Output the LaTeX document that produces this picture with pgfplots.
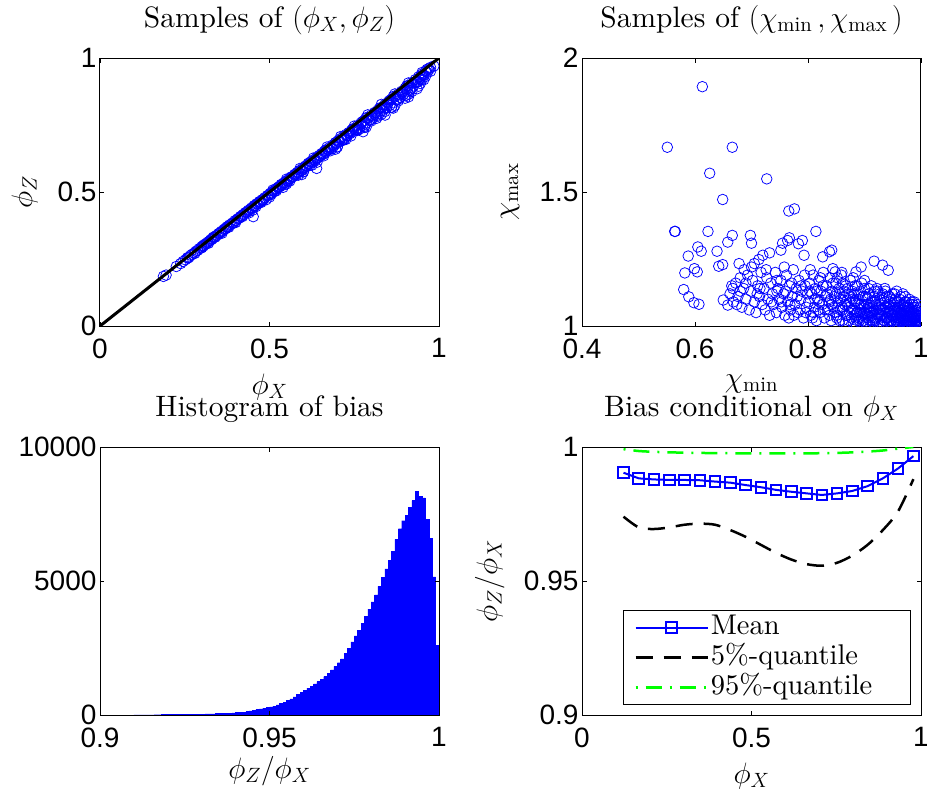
\RequirePackage{fix-cm}
\documentclass[border=0pt]{standalone}
\usepackage{fontspec}
\setmainfont{lmroman10-regular.otf}
\usepackage{pgfplots}
\pgfplotsset{compat=1.18}
\newfontfamily\tickfont{Liberation Sans}
\definecolor{mblue}{rgb}{0,0,1}
\definecolor{mgreen}{rgb}{0,1,0}
\newcommand\lgf{\fontsize{28.5}{29}\selectfont}
\pgfplotsset{
  mat/.style={
    scale only axis, width=339pt, height=268pt,
    axis line style={line width=1pt},
    tick align=inside, major tick length=4.5pt,
    every tick/.style={black, line width=0.8pt},
    scaled ticks=false,
    ticklabel style={font=\tickfont\fontsize{28}{28}\selectfont},
    xticklabel style={yshift=-9pt},
    /pgf/number format/assume math mode=true,
    /pgf/number format/1000 sep={},
    title style={font=\fontsize{29.5}{30}\selectfont, at={(axis description cs:0.5,1)}, anchor=base, yshift=24.5pt},
    label style={font=\fontsize{29.5}{30}\selectfont},
    xlabel style={at={(axis description cs:0.5,0)}, anchor=base, yshift=-68.5pt},
    clip marker paths=true,
  },
  sc/.style={only marks, mark=o, mark size=5.3pt, color=mblue, mark options={line width=0.75pt}},
}
\begin{document}
\begin{tikzpicture}
\path[use as bounding box] (0pt,0pt) rectangle (927pt,-800pt);
% ---------- top left
\begin{axis}[mat, at={(100pt,-326pt)}, anchor=south west,
  xmin=0, xmax=1, ymin=0, ymax=1, xtick={0,0.5,1}, ytick={0,0.5,1},
  title={Samples of $(\phi_X,\phi_Z)$}, xlabel={$\phi_X$}, ylabel={$\phi_Z$},
  ylabel style={at={(axis description cs:-0.222,0.5)}, anchor=center}]
\addplot[sc] coordinates {
(0.187,0.185) (0.195,0.190) (0.225,0.222) (0.238,0.233) (0.245,0.241) (0.252,0.247) (0.258,0.255) (0.263,0.257) (0.268,0.264) (0.272,0.268) (0.278,0.272) (0.283,0.279) (0.288,0.282) (0.292,0.288) (0.297,0.291) (0.301,0.297) (0.305,0.298) (0.309,0.305) (0.313,0.307) (0.318,0.313) (0.322,0.316) (0.326,0.321) (0.330,0.323) (0.334,0.330) (0.338,0.331) (0.342,0.337) (0.346,0.339) (0.350,0.345) (0.354,0.347) (0.358,0.353) (0.362,0.354) (0.366,0.361) (0.370,0.363) (0.374,0.368) (0.378,0.370) (0.382,0.377) (0.386,0.379) (0.390,0.384) (0.394,0.386) (0.398,0.393) (0.402,0.394) (0.406,0.400) (0.410,0.402) (0.414,0.408) (0.418,0.410) (0.422,0.416) (0.426,0.418) (0.430,0.424) (0.434,0.425) (0.438,0.432) (0.442,0.433) (0.446,0.440) (0.450,0.441) (0.454,0.447) (0.458,0.449) (0.462,0.456) (0.466,0.457) (0.470,0.464) (0.474,0.464) (0.478,0.471) (0.482,0.472) (0.486,0.479) (0.490,0.471) (0.494,0.487) (0.498,0.488) (0.502,0.495) (0.506,0.496) (0.510,0.503) (0.514,0.503) (0.518,0.511) (0.522,0.511) (0.526,0.518) (0.530,0.519) (0.534,0.526) (0.538,0.527) (0.542,0.534) (0.546,0.534) (0.550,0.542) (0.554,0.542) (0.558,0.550) (0.562,0.550) (0.566,0.557) (0.570,0.558) (0.574,0.565) (0.578,0.566) (0.582,0.573) (0.586,0.573) (0.590,0.581) (0.594,0.580) (0.598,0.589) (0.602,0.589) (0.606,0.597) (0.610,0.596) (0.614,0.605) (0.618,0.604) (0.622,0.613) (0.626,0.611) (0.630,0.620) (0.634,0.619) (0.638,0.628) (0.642,0.627) (0.646,0.636) (0.650,0.634) (0.654,0.644) (0.658,0.642) (0.662,0.652) (0.666,0.649) (0.670,0.660) (0.674,0.657) (0.678,0.667) (0.682,0.664) (0.686,0.675) (0.690,0.672) (0.694,0.683) (0.698,0.680) (0.702,0.691) (0.706,0.687) (0.710,0.699) (0.714,0.695) (0.718,0.707) (0.722,0.702) (0.726,0.715) (0.730,0.710) (0.734,0.722) (0.738,0.718) (0.742,0.730) (0.746,0.725) (0.750,0.738) (0.755,0.731) (0.760,0.748) (0.765,0.740) (0.770,0.758) (0.775,0.748) (0.780,0.767) (0.785,0.757) (0.790,0.777) (0.795,0.768) (0.800,0.787) (0.805,0.776) (0.810,0.797) (0.815,0.785) (0.820,0.806) (0.825,0.795) (0.830,0.816) (0.835,0.804) (0.840,0.826) (0.845,0.815) (0.850,0.836) (0.855,0.823) (0.860,0.846) (0.865,0.833) (0.870,0.855) (0.875,0.843) (0.880,0.866) (0.885,0.853) (0.890,0.876) (0.895,0.864) (0.900,0.887) (0.905,0.874) (0.910,0.897) (0.915,0.884) (0.920,0.908) (0.925,0.896) (0.930,0.919) (0.935,0.909) (0.940,0.930) (0.945,0.921) (0.950,0.940) (0.955,0.935) (0.960,0.951) (0.965,0.958) (0.970,0.960)
(0.452,0.408) (0.639,0.588) (0.776,0.725) (0.816,0.775) (0.841,0.787) (0.905,0.862) (0.939,0.912) (0.953,0.937) (0.660,0.635) (0.720,0.695) (0.780,0.745) (0.800,0.765) (0.840,0.800) (0.860,0.815) (0.880,0.840) (0.900,0.850) (0.920,0.875) (0.935,0.885) (0.950,0.920) (0.830,0.790) (0.600,0.575) (0.550,0.530) (0.450,0.432) (0.700,0.668) (0.760,0.730) (0.870,0.823) (0.910,0.865) (0.945,0.905)
(0.26,0.2535) (0.28,0.271) (0.30,0.2916) (0.32,0.3088) (0.34,0.3315) (0.36,0.3463) (0.38,0.3686) (0.40,0.386) (0.42,0.408) (0.44,0.4224) (0.46,0.4453) (0.48,0.468) (0.50,0.481) (0.52,0.5044) (0.54,0.5173) (0.56,0.541) (0.58,0.5638) (0.60,0.576) (0.62,0.600) (0.64,0.611) (0.66,0.6415) (0.68,0.654) (0.70,0.6685) (0.72,0.697) (0.74,0.709) (0.76,0.733) (0.78,0.741) (0.80,0.770) (0.82,0.783) (0.84,0.813) (0.86,0.817) (0.88,0.8466) (0.90,0.8595) (0.92,0.888) (0.94,0.895) (0.96,0.931)
(0.33,0.325) (0.37,0.363) (0.43,0.4236) (0.47,0.4606) (0.53,0.521) (0.57,0.5575) (0.61,0.599) (0.65,0.636) (0.69,0.676) (0.73,0.7125) (0.77,0.753) (0.81,0.790) (0.85,0.831) (0.89,0.868) (0.93,0.9095)
(0.51,0.5075) (0.55,0.548) (0.59,0.588) (0.63,0.627) (0.67,0.668) (0.71,0.707) (0.75,0.746) (0.79,0.788) (0.83,0.827) (0.87,0.866) (0.91,0.907) (0.95,0.946) (0.975,0.965) (0.97,0.955) (0.91,0.855) (0.865,0.813) (0.785,0.742) (0.695,0.660) (0.595,0.565)
(0.305,0.3004) (0.315,0.308) (0.335,0.3317) (0.355,0.348) (0.375,0.3705) (0.395,0.3851) (0.415,0.4088) (0.435,0.4254) (0.455,0.4495) (0.475,0.4608) (0.495,0.4861) (0.515,0.5021) (0.535,0.5286) (0.555,0.5395) (0.575,0.5664) (0.595,0.5801) (0.615,0.6076) (0.635,0.616) (0.655,0.6432) (0.675,0.6581) (0.695,0.6846) (0.715,0.6921) (0.735,0.7203) (0.755,0.7339) (0.775,0.7634) (0.795,0.7672) (0.815,0.7971) (0.835,0.810) (0.855,0.8422) (0.875,0.8444) (0.895,0.8753) (0.915,0.8784) (0.935,0.9116) (0.955,0.9187) (0.965,0.9457) (0.985,0.970) (0.975,0.9506) (0.945,0.9308) (0.925,0.9065) (0.905,0.896) (0.885,0.8629) (0.865,0.8564) (0.845,0.8129) (0.825,0.8126) (0.805,0.7849) (0.785,0.7772) (0.765,0.7344) (0.745,0.7338) (0.725,0.696) (0.705,0.6895) (0.685,0.661) (0.665,0.655) (0.645,0.6289) (0.625,0.60) (0.605,0.5917) (0.585,0.5628) (0.565,0.5565) (0.545,0.5276) (0.525,0.5171) (0.505,0.4909)
};
\addplot[black, line width=3pt] coordinates {(0,0) (1,1)};
\end{axis}
% ---------- top right
\begin{axis}[mat, at={(582pt,-326pt)}, anchor=south west,
  xmin=0.4, xmax=1, ymin=1, ymax=2, xtick={0.4,0.6,0.8,1}, ytick={1,1.5,2},
  title={Samples of $(\chi_{\min}\,,\chi_{\max}\,)$}, xlabel={$\chi_{\min}$}, ylabel={$\chi_{\max}$},
  xlabel style={yshift=7.5pt},
  ylabel style={at={(axis description cs:-0.212,0.5)}, anchor=center}]
\addplot[sc] coordinates {
(0.613,1.893) (0.551,1.667) (0.666,1.667) (0.626,1.570) (0.727,1.549) (0.649,1.472) (0.766,1.429) (0.776,1.437) (0.564,1.353) (0.565,1.353) (0.623,1.353) (0.814,1.353) (0.666,1.338) (0.658,1.313) (0.698,1.338) (0.700,1.309) (0.605,1.295) (0.611,1.279) (0.588,1.261) (0.639,1.279) (0.642,1.223) (0.649,1.229) (0.582,1.198) (0.599,1.214) (0.604,1.202) (0.580,1.136) (0.589,1.109) (0.598,1.087) (0.607,1.081) (0.650,1.097) (0.658,1.078) (0.667,1.140) (0.678,1.233) (0.705,1.233) (0.713,1.248) (0.720,1.264) (0.732,1.273) (0.752,1.283) (0.755,1.309) (0.764,1.319) (0.767,1.329) (0.783,1.307) (0.790,1.319) (0.793,1.264) (0.826,1.258) (0.838,1.277) (0.842,1.283) (0.917,1.242) (0.932,1.227) (0.942,1.208) (0.894,1.220) (0.885,1.202) (0.844,1.214) (0.848,1.202)
(0.662,1.12) (0.668,1.09) (0.672,1.16) (0.676,1.11) (0.680,1.18) (0.683,1.07) (0.686,1.14) (0.690,1.10) (0.693,1.19) (0.696,1.06) (0.699,1.13) (0.702,1.17) (0.705,1.09) (0.708,1.05) (0.711,1.15) (0.714,1.11) (0.717,1.20) (0.719,1.08) (0.665,1.15) (0.687,1.21) (0.700,1.22) (0.710,1.12) (0.674,1.08)
(0.722,1.14) (0.724,1.06) (0.727,1.18) (0.729,1.10) (0.732,1.04) (0.734,1.16) (0.737,1.12) (0.739,1.08) (0.742,1.20) (0.744,1.05) (0.747,1.14) (0.749,1.10) (0.752,1.17) (0.754,1.07) (0.757,1.12) (0.759,1.04) (0.762,1.19) (0.764,1.09) (0.767,1.15) (0.769,1.06) (0.772,1.11) (0.774,1.21) (0.777,1.08) (0.779,1.14) (0.782,1.05) (0.784,1.17) (0.787,1.10) (0.789,1.13) (0.792,1.03) (0.794,1.19) (0.797,1.07) (0.799,1.12) (0.726,1.21) (0.745,1.13) (0.758,1.22) (0.771,1.16) (0.786,1.06) (0.795,1.15) (0.753,1.09) (0.766,1.03)
(0.801,1.09) (0.803,1.16) (0.805,1.04) (0.807,1.12) (0.809,1.19) (0.811,1.07) (0.813,1.14) (0.815,1.02) (0.817,1.10) (0.819,1.17) (0.821,1.05) (0.823,1.13) (0.825,1.08) (0.827,1.20) (0.829,1.03) (0.831,1.11) (0.833,1.15) (0.835,1.06) (0.837,1.09) (0.839,1.18) (0.841,1.02) (0.843,1.13) (0.845,1.07) (0.847,1.11) (0.849,1.16) (0.851,1.04) (0.853,1.09) (0.855,1.14) (0.857,1.06) (0.859,1.19) (0.861,1.02) (0.863,1.11) (0.865,1.08) (0.867,1.15) (0.869,1.04) (0.871,1.12) (0.873,1.07) (0.875,1.17) (0.877,1.03) (0.879,1.10) (0.804,1.21) (0.812,1.10) (0.818,1.06) (0.826,1.15) (0.834,1.12) (0.842,1.08) (0.848,1.05) (0.856,1.12) (0.862,1.16) (0.868,1.09) (0.874,1.05) (0.878,1.13) (0.808,1.03) (0.822,1.18) (0.838,1.04) (0.852,1.18) (0.866,1.01) (0.876,1.09) (0.816,1.13) (0.844,1.16)
(0.881,1.06) (0.882,1.12) (0.884,1.03) (0.885,1.09) (0.887,1.15) (0.888,1.05) (0.890,1.10) (0.891,1.02) (0.893,1.13) (0.894,1.07) (0.896,1.04) (0.897,1.11) (0.899,1.08) (0.900,1.14) (0.902,1.01) (0.903,1.06) (0.905,1.10) (0.906,1.03) (0.908,1.12) (0.909,1.07) (0.911,1.05) (0.912,1.15) (0.914,1.02) (0.915,1.09) (0.917,1.06) (0.918,1.11) (0.920,1.03) (0.921,1.08) (0.923,1.13) (0.924,1.05) (0.926,1.01) (0.927,1.10) (0.929,1.07) (0.930,1.04) (0.932,1.12) (0.933,1.06) (0.935,1.02) (0.936,1.09) (0.938,1.05) (0.939,1.11) (0.941,1.03) (0.942,1.08) (0.944,1.06) (0.945,1.01) (0.947,1.10) (0.948,1.04) (0.950,1.07) (0.886,1.00) (0.895,1.16) (0.904,1.08) (0.913,1.04) (0.922,1.14) (0.931,1.00) (0.940,1.07) (0.949,1.12) (0.889,1.08) (0.898,1.02) (0.907,1.14) (0.916,1.01) (0.925,1.07) (0.934,1.10) (0.943,1.02) (0.883,1.15) (0.901,1.05) (0.919,1.09) (0.937,1.13) (0.946,1.05) (0.928,1.03) (0.910,1.00) (0.892,1.05)
(0.951,1.03) (0.952,1.08) (0.953,1.01) (0.954,1.05) (0.955,1.10) (0.956,1.02) (0.957,1.06) (0.958,1.04) (0.959,1.09) (0.960,1.01) (0.961,1.05) (0.962,1.07) (0.963,1.03) (0.964,1.11) (0.965,1.02) (0.966,1.06) (0.967,1.04) (0.968,1.08) (0.969,1.01) (0.970,1.05) (0.971,1.03) (0.972,1.07) (0.973,1.02) (0.974,1.09) (0.975,1.04) (0.976,1.01) (0.977,1.06) (0.978,1.03) (0.979,1.05) (0.980,1.02) (0.981,1.08) (0.982,1.01) (0.983,1.04) (0.984,1.06) (0.985,1.02) (0.986,1.03) (0.987,1.05) (0.988,1.01) (0.989,1.04) (0.990,1.02) (0.991,1.03) (0.992,1.01) (0.993,1.05) (0.994,1.02) (0.995,1.01) (0.996,1.03) (0.997,1.02) (0.998,1.01) (0.999,1.01) (0.953,1.12) (0.958,1.00) (0.962,1.10) (0.967,1.00) (0.971,1.09) (0.976,1.07) (0.980,1.00) (0.984,1.09) (0.988,1.07) (0.992,1.04) (0.996,1.06) (0.998,1.04) (0.955,1.07) (0.965,1.04) (0.975,1.02) (0.985,1.05) (0.995,1.04) (0.960,1.03) (0.970,1.08) (0.978,1.00) (0.990,1.00) (0.994,1.08) (0.999,1.03) (0.957,1.13) (0.968,1.12) (0.988,1.09)
(0.851,1.03) (0.853,1.07) (0.856,1.02) (0.858,1.10) (0.861,1.06) (0.864,1.13) (0.867,1.04) (0.870,1.08) (0.872,1.02) (0.875,1.11) (0.878,1.06) (0.880,1.01) (0.883,1.09) (0.886,1.05) (0.889,1.12) (0.891,1.03) (0.894,1.08) (0.897,1.01) (0.899,1.05) (0.902,1.11) (0.905,1.04) (0.907,1.07) (0.910,1.02) (0.913,1.09) (0.915,1.05) (0.918,1.03) (0.921,1.06) (0.923,1.01) (0.926,1.08) (0.929,1.04) (0.931,1.06) (0.934,1.02) (0.937,1.07) (0.939,1.03) (0.942,1.05) (0.945,1.09) (0.947,1.02) (0.950,1.04) (0.953,1.06) (0.956,1.03) (0.959,1.07) (0.962,1.02) (0.964,1.05) (0.967,1.03) (0.970,1.06) (0.973,1.01) (0.976,1.04) (0.979,1.07) (0.982,1.03) (0.985,1.00) (0.988,1.03) (0.991,1.06) (0.994,1.00) (0.997,1.05) (0.999,1.00) (0.760,1.13) (0.768,1.08) (0.775,1.04) (0.781,1.11) (0.788,1.15) (0.796,1.05) (0.803,1.13) (0.810,1.05) (0.820,1.09) (0.830,1.06) (0.840,1.10) (0.850,1.12) (0.860,1.07) (0.870,1.14) (0.735,1.09) (0.745,1.17) (0.715,1.14) (0.690,1.16) (0.680,1.13)
(0.882,1.04) (0.887,1.02) (0.893,1.06) (0.898,1.03) (0.904,1.01) (0.909,1.05) (0.914,1.07) (0.919,1.02) (0.924,1.04) (0.928,1.06) (0.933,1.01) (0.938,1.03) (0.943,1.05) (0.948,1.02) (0.952,1.04) (0.957,1.01) (0.961,1.03) (0.966,1.05) (0.969,1.02) (0.973,1.04) (0.977,1.02) (0.981,1.05) (0.984,1.01) (0.987,1.03) (0.991,1.01) (0.994,1.04) (0.997,1.00) (0.992,1.07) (0.986,1.08) (0.979,1.10) (0.972,1.11) (0.963,1.08) (0.954,1.09) (0.944,1.11) (0.936,1.14) (0.927,1.12) (0.918,1.13) (0.900,1.17) (0.880,1.18) (0.860,1.20)
};
\end{axis}
% ---------- bottom left
\begin{axis}[mat, at={(100pt,-715pt)}, anchor=south west,
  xmin=0.9, xmax=1, ymin=0, ymax=10000, xtick={0.9,0.95,1}, ytick={0,5000,10000},
  title={Histogram of bias}, xlabel={$\phi_Z/\phi_X$}, xlabel style={yshift=5pt},
  axis on top]
\addplot[const plot, fill=mblue, draw=mblue, line width=0.4pt] table {
x y
0.900 0
0.909 0
0.910 4
0.911 5
0.912 6
0.913 7
0.914 8
0.915 9
0.916 10
0.917 11
0.918 12
0.919 14
0.920 15
0.921 17
0.922 19
0.923 21
0.924 23
0.925 25
0.926 27
0.927 29
0.928 31
0.929 34
0.930 37
0.931 40
0.932 43
0.933 46
0.934 50
0.935 55
0.936 60
0.937 65
0.938 72
0.939 80
0.940 88
0.941 98
0.942 110
0.943 125
0.944 150
0.945 180
0.946 210
0.947 230
0.948 250
0.949 275
0.950 305
0.951 335
0.952 380
0.953 430
0.954 480
0.955 540
0.956 600
0.957 680
0.958 760
0.959 840
0.960 920
0.961 1000
0.962 1080
0.963 1160
0.964 1250
0.965 1340
0.966 1430
0.967 1550
0.968 1680
0.969 1810
0.970 1950
0.971 2090
0.972 2300
0.973 2500
0.974 2730
0.975 2950
0.976 3170
0.977 3420
0.978 3680
0.979 3950
0.980 4220
0.981 4480
0.982 4800
0.983 5130
0.984 5450
0.985 5780
0.986 6100
0.987 6550
0.988 6950
0.989 7250
0.990 7450
0.991 7750
0.992 8000
0.993 8350
0.994 8150
0.995 8100
0.996 7300
0.997 6600
0.998 5150
0.999 2600
1.000 2600
} \closedcycle;
\end{axis}
% ---------- bottom right
\begin{axis}[mat, at={(582pt,-715pt)}, anchor=south west,
  xmin=0, xmax=1, ymin=0.9, ymax=1, xtick={0,0.5,1}, ytick={0.9,0.95,1},
  title={Bias conditional on $\phi_X$}, xlabel={$\phi_X$}, ylabel={$\phi_Z/\phi_X$},
  ylabel style={at={(axis description cs:-0.272,0.5)}, anchor=center},
  legend cell align=left,
  legend style={at={(0.97,0.037)}, anchor=south east, draw=black, line width=1pt, fill=white,
    inner xsep=11pt, inner ysep=2pt,
    nodes={inner sep=2pt, text height=20pt, text depth=6pt}},
  legend image code/.code={\draw[mark repeat=2,mark phase=2,#1] plot coordinates {(0pt,0pt) (36pt,0pt) (72pt,0pt)};}]
\addplot[mblue, line width=2pt, mark=square, mark size=5.3pt, mark options={solid, line width=2pt}] coordinates {
(0.1225,0.9904) (0.1675,0.9883) (0.2125,0.9879) (0.2575,0.9877) (0.3025,0.9877) (0.3475,0.9876) (0.3925,0.9871) (0.4375,0.9867) (0.4825,0.9858) (0.5275,0.9850) (0.5725,0.9840) (0.6175,0.9833) (0.6625,0.9827) (0.7075,0.9821) (0.7525,0.9827) (0.7975,0.9836) (0.8425,0.9854) (0.8875,0.9883) (0.9325,0.9920) (0.9775,0.9966)
};
\addlegendentry{\lgf Mean}
\addplot[black, line width=2.5pt, dash pattern=on 17pt off 11pt, smooth] coordinates {
(0.1225,0.9740) (0.1675,0.9700) (0.2125,0.9694) (0.2575,0.9700) (0.3025,0.9710) (0.3475,0.9714) (0.3925,0.9710) (0.4375,0.9690) (0.4825,0.9665) (0.5275,0.9635) (0.5725,0.9605) (0.6175,0.9580) (0.6625,0.9563) (0.7075,0.9557) (0.7525,0.9568) (0.7975,0.9595) (0.8425,0.9635) (0.8875,0.9690) (0.9325,0.9760) (0.9775,0.9880)
};
\addlegendentry{\lgf 5\%-quantile}
\addplot[mgreen, line width=2.5pt, dash pattern=on 2pt off 8pt on 16pt off 8pt, smooth] coordinates {
(0.1225,0.9992) (0.1675,0.9985) (0.2125,0.9982) (0.2575,0.9980) (0.3025,0.9979) (0.3475,0.9978) (0.3925,0.9977) (0.4375,0.9977) (0.4825,0.9976) (0.5275,0.9976) (0.5725,0.9976) (0.6175,0.9976) (0.6625,0.9976) (0.7075,0.9977) (0.7525,0.9978) (0.7975,0.9980) (0.8425,0.9983) (0.8875,0.9987) (0.9325,0.9994) (0.9775,1.0000)
};
\addlegendentry{\lgf 95\%-quantile\hspace*{25pt}}
\end{axis}
\end{tikzpicture}
\end{document}
